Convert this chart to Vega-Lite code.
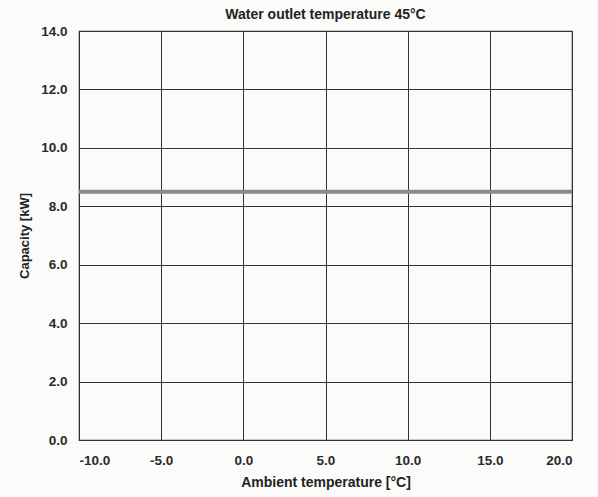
{
  "$schema": "https://vega.github.io/schema/vega-lite/v6.json",
  "width": 493,
  "height": 409,
  "autosize": {"type": "none"},
  "padding": {"left": 79, "top": 31, "right": 26, "bottom": 57},
  "background": "#fbfbfa",
  "title": {
    "text": "Water outlet temperature 45°C",
    "font": "Liberation Sans",
    "fontSize": 14,
    "fontWeight": "bold",
    "color": "#222222",
    "offset": 2
  },
  "config": {
    "view": {"stroke": "#333333", "strokeWidth": 1.2},
    "axis": {
      "labelFont": "Liberation Sans",
      "labelFontSize": 13.5,
      "labelFontWeight": "bold",
      "labelColor": "#2a2a2a",
      "titleFont": "Liberation Sans",
      "titleFontSize": 14,
      "titleFontWeight": "bold",
      "titleColor": "#222222",
      "gridColor": "#333333",
      "gridOpacity": 1,
      "gridWidth": 1,
      "domain": false,
      "ticks": false
    }
  },
  "data": {
    "values": [
      {"ambient": -10, "capacity": 8.5},
      {"ambient": 20, "capacity": 8.5}
    ]
  },
  "mark": {"type": "line", "color": "#8a8a8a", "strokeWidth": 4},
  "encoding": {
    "x": {
      "field": "ambient",
      "type": "quantitative",
      "scale": {"domain": [-10, 20], "nice": false},
      "axis": {"values": [-10, -5, 0, 5, 10, 15, 20], "format": ".1f", "labelExpr": "replace(datum.label, '−', '-')", "title": "Ambient temperature [°C]", "labelPadding": 13, "titlePadding": 9}
    },
    "y": {
      "field": "capacity",
      "type": "quantitative",
      "scale": {"domain": [0, 14], "nice": false},
      "axis": {"values": [0, 2, 4, 6, 8, 10, 12, 14], "format": ".1f", "title": "Capacity [kW]", "titleFontSize": 13, "labelPadding": 12, "titlePadding": 9}
    }
  }
}
